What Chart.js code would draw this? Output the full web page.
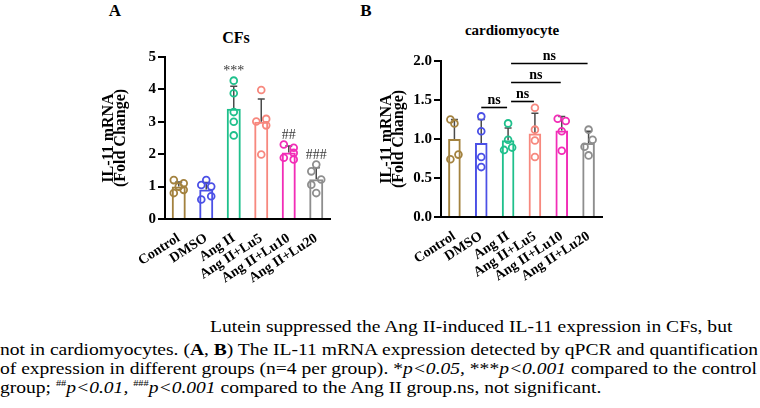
<!DOCTYPE html>
<html><head><meta charset="utf-8">
<script src="https://cdn.jsdelivr.net/npm/chart.js@4.4.0/dist/chart.umd.min.js"></script>
<style>
html,body{margin:0;padding:0;background:#fff;width:760px;height:408px;overflow:hidden;position:relative;font-family:"Liberation Serif","Times New Roman",serif;}
canvas{position:absolute;}
.lbl{position:absolute;font-weight:bold;color:#000;white-space:nowrap;transform:translate(-50%,-50%);}
.cap{position:absolute;left:0;font-size:17px;line-height:20px;white-space:nowrap;transform-origin:0 0;color:#000;}
.cap sup{font-size:9px;line-height:0;vertical-align:0;position:relative;top:-7px;}
</style></head><body>
<div class="lbl" style="left:115px;top:11px;font-size:17px">A</div>
<div class="lbl" style="left:236px;top:38px;font-size:16px">CFs</div>
<div class="lbl" style="left:366px;top:11px;font-size:17px">B</div>
<div class="lbl" style="left:512px;top:30px;font-size:15px">cardiomyocyte</div>
<canvas id="cA" width="345" height="300" style="left:0;top:0;width:345px;height:300px"></canvas>
<canvas id="cB" width="270" height="300" style="left:345px;top:0;width:270px;height:300px"></canvas>
<div class="cap" id="cap1" style="top:317px;left:210px">Lutein suppressed the Ang II-induced IL-11 expression in CFs, but</div>
<div class="cap" id="cap2" style="top:340px">not in cardiomyocytes. (<b>A</b>, <b>B</b>) The IL-11 mRNA expression detected by qPCR and quantification</div>
<div class="cap" id="cap3" style="top:359px">of expression in different groups (n=4 per group). *<i>p&lt;0.05, </i>***<i>p&lt;0.001</i> compared to the control</div>
<div class="cap" id="cap4" style="top:378px">group; <sup>##</sup><i>p&lt;0.01, </i><sup>###</sup><i>p&lt;0.001</i> compared to the Ang II group.ns, not significant.</div>
<script>
// ---------- data ----------
const categories = ['Control', 'DMSO', 'Ang II', 'Ang II+Lu5', 'Ang II+Lu10', 'Ang II+Lu20'];
const colors = ['#A3823F', '#4B50E6', '#1FC08C', '#F7887E', '#F22DB7', '#8E8E8E'];

// Panel A (CFs)
const meansA = [1.0, 0.91, 3.4, 3.0, 2.05, 1.23];
const sdA = [0.14, 0.22, 0.7, 0.7, 0.2, 0.35];
const pointsA = [
  [1.2, 1.1, 1.0, 0.8, 0.9],
  [1.05, 1.0, 1.2, 0.6, 0.7],
  [4.27, 3.88, 3.3, 3.0, 2.58],
  [3.98, 3.01, 3.09, 2.89, 1.99],
  [2.3, 2.2, 2.04, 1.89, 1.84],
  [1.68, 1.47, 1.22, 1.06, 0.8]
];
const marksA = ['', '', '***', '', '##', '###'];
const ticksA = ['0', '1', '2', '3', '4', '5'];

// Panel B (cardiomyocyte)
const meansB = [1.0, 0.95, 0.985, 1.07, 1.11, 0.95];
const sdB = [0.25, 0.3, 0.155, 0.26, 0.18, 0.15];
const pointsB = [
  [1.25, 1.2, 0.74, 0.8],
  [1.29, 1.1, 0.77, 0.64],
  [1.2, 0.99, 0.86, 0.89],
  [1.4, 1.12, 0.98, 0.77],
  [1.26, 1.23, 1.1, 0.85],
  [1.12, 0.99, 0.9, 0.79]
];
const nsPairsB = [[1, 2], [2, 3], [2, 4], [2, 5]];
const nsLevelsB = [1.41, 1.49, 1.73, 1.97];
const nsTextB = ['ns', 'ns', 'ns', 'ns'];
const ticksB = ['0.0', '0.5', '1.0', '1.5', '2.0'];

// layout-only jitter pattern (-1 left, 0 centre, 1 right)
const jitterA = [[-1,1,0,-1,1],[-1,1,0,-1,1],[0,0,0,0,0],[0,-1,1,1,0],[-1,1,1,-1,1],[0,-1,1,-1,0]];
const jitterB = [[-1,0,-1,1],[0,0,0,0],[0,0,-1,1],[0,0,0,0],[-1,1,0,0],[0,1,-1,0]];

// ---------- caption fit ----------
(function(){
  const c2 = document.getElementById('cap2');
  const s = 758 / c2.getBoundingClientRect().width;
  ['cap1','cap2','cap3','cap4'].forEach(id => document.getElementById(id).style.transform = 'scaleX(' + s + ')');
})();

// ---------- charts ----------
const FAM = '"Liberation Serif", "Times New Roman", serif';

function overlay(means, sd, pts, marks, ns) {
  return {
    id: 'overlay',
    afterDatasetDraw(chart, args) {
      if (args.index !== 0) return;
      const ctx = chart.ctx, xs = chart.scales.x, ys = chart.scales.y;
      ctx.save();
      ctx.strokeStyle = '#4a4a4a';
      ctx.lineWidth = 1.5;
      means.forEach((m, i) => {
        const x = xs.getPixelForValue(i);
        const y0 = ys.getPixelForValue(m), y1 = ys.getPixelForValue(m + sd[i]);
        ctx.beginPath();
        ctx.moveTo(x, y0); ctx.lineTo(x, y1);
        ctx.moveTo(x - 3.5, y1); ctx.lineTo(x + 3.5, y1);
        ctx.stroke();
      });
      ctx.restore();
    },
    afterDraw(chart) {
      const ctx = chart.ctx, xs = chart.scales.x, ys = chart.scales.y;
      ctx.save();
      if (marks) {
        ctx.fillStyle = '#3a3a3a';
        ctx.font = '14px ' + FAM;
        ctx.textAlign = 'center';
        ctx.textBaseline = 'middle';
        marks.forEach((t, i) => {
          if (!t) return;
          const top = Math.max(means[i] + sd[i], ...pts[i]);
          ctx.fillText(t, xs.getPixelForValue(i), ys.getPixelForValue(top) - 9);
        });
      }
      if (ns) {
        ctx.strokeStyle = '#000';
        ctx.lineWidth = 1.6;
        ctx.fillStyle = '#000';
        ctx.font = 'bold 14px ' + FAM;
        ctx.textAlign = 'center';
        ctx.textBaseline = 'alphabetic';
        ns.pairs.forEach((p, k) => {
          const xa = xs.getPixelForValue(p[0]) + (p[0] === 2 ? 3 : 0);
          const xb = xs.getPixelForValue(p[1]) - 1;
          const y = Math.round(ys.getPixelForValue(ns.levels[k])) + 0.5;
          ctx.beginPath(); ctx.moveTo(xa, y); ctx.lineTo(xb, y); ctx.stroke();
          ctx.fillText(ns.text[k], (xa + xb) / 2, y - 4);
        });
      }
      ctx.restore();
    }
  };
}

function makeChart(id, o) {
  const spread = o.spread;
  const scatter = [];
  const pcolors = [];
  o.points.forEach((arr, i) => arr.forEach((v, j) => {
    scatter.push({ x: i + o.jitter[i][j] * spread, y: v });
    pcolors.push(colors[i]);
  }));
  const barData = o.means.map((m, i) => ({ x: i, y: m }));
  const xFont = { family: FAM, weight: 'bold', size: 14 };
  const yFont = { family: FAM, weight: 'bold', size: 15 };
  return new Chart(document.getElementById(id), {
    type: 'bar',
    data: {
      datasets: [
        {
          type: 'bar', data: barData, order: 2, grouped: false,
          backgroundColor: 'rgba(255,255,255,0)', borderColor: colors, borderWidth: 2,
          barPercentage: o.barPct, categoryPercentage: 1
        },
        {
          type: 'scatter', data: scatter, order: 1,
          pointRadius: 3.4, pointBorderWidth: 1.8, pointBorderColor: pcolors,
          pointBackgroundColor: 'rgba(255,255,255,0)', showLine: false
        }
      ]
    },
    options: {
      responsive: false, animation: false, devicePixelRatio: 1,
      layout: { autoPadding: false, padding: o.padding },
      plugins: { legend: { display: false }, tooltip: { enabled: false } },
      scales: {
        x: {
          type: 'linear', min: -0.5, max: 5.5, offset: false,
          grid: { display: false, offset: false },
          border: { display: true, color: '#000', width: 2 },
          afterBuildTicks: s => { s.ticks = categories.map((c, i) => ({ value: i })); },
          ticks: {
            font: xFont, color: '#000', minRotation: 33, maxRotation: 33,
            autoSkip: false, padding: 3,
            callback: v => categories[Math.round(v)]
          },
          afterFit: s => { s.height = o.xh; }
        },
        y: {
          min: 0, max: o.ymax,
          grid: { drawOnChartArea: false, drawTicks: true, tickLength: 7, color: '#000', lineWidth: 2 },
          border: { display: true, color: '#000', width: 2 },
          ticks: {
            stepSize: o.step, font: yFont, color: '#000', padding: 2,
            callback: (v, i) => o.ticks[i]
          },
          title: {
            display: true, text: ['IL-11 mRNA', '(Fold Change)'], color: '#000',
            font: { family: FAM, weight: 'bold', size: 16, lineHeight: '12px' },
            padding: { top: 0, bottom: 0 }
          },
          afterFit: s => { s.width = o.yw; }
        }
      }
    },
    plugins: [overlay(o.means, o.sd, o.points, o.marks, o.ns)]
  });
}

makeChart('cA', {
  means: meansA, sd: sdA, points: pointsA, jitter: jitterA, spread: 0.18,
  marks: marksA, ns: null, ticks: ticksA, ymax: 5, step: 1, barPct: 0.51,
  padding: { left: 103, top: 57, right: 15, bottom: 0 }, yw: 62, xh: 81
});
makeChart('cB', {
  means: meansB, sd: sdB, points: pointsB, jitter: jitterB, spread: 0.15,
  marks: null, ns: { pairs: nsPairsB, levels: nsLevelsB, text: nsTextB },
  ticks: ticksB, ymax: 2, step: 0.5, barPct: 0.47,
  padding: { left: 36, top: 61, right: 13, bottom: 0 }, yw: 60, xh: 83
});
</script>
</body></html>
